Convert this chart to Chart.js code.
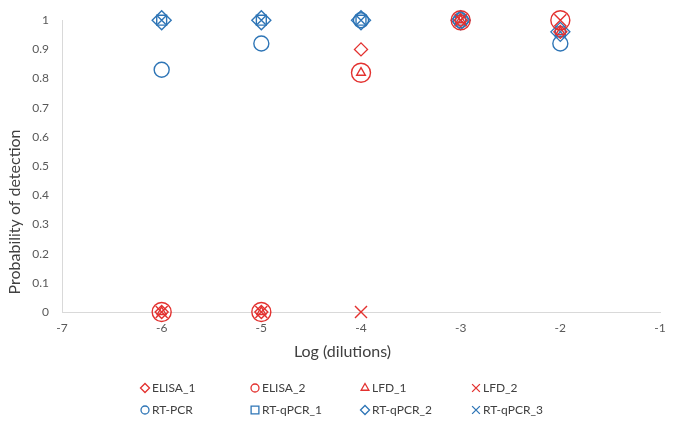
<!DOCTYPE html>
<html>
<head>
<meta charset="utf-8">
<script src="https://cdn.jsdelivr.net/npm/chart.js@4/dist/chart.umd.min.js"></script>
<style>
  html, body { margin: 0; padding: 0; background: #fff; }
  #wrap { width: 685px; height: 424px; }
</style>
</head>
<body>
<div id="wrap"><canvas id="chart" width="685" height="424"></canvas></div>
<script>
// log dilution on the x axis
var dilutions = [-6, -5, -4, -3, -2];

// probability of detection per assay
var elisa1  = [0, 0, 0.9, 1, 0.96];
var elisa2  = [0, 0, 0.82, 1, 1];
var lfd1    = [0, 0, 0.82, 1, 0.96];
var lfd2    = [0, 0, 0, 1, 1];
var rtPcr   = [0.83, 0.92, 1, 1, 0.92];
var rtqPcr1 = [1, 1, 1, 1, 0.96];
var rtqPcr2 = [1, 1, 1, 1, 0.96];
var rtqPcr3 = [1, 1, 1, 1, 0.96];

var xTicks = [-7, -6, -5, -4, -3, -2, -1];
var yTicks = [0, 0.1, 0.2, 0.3, 0.4, 0.5, 0.6, 0.7, 0.8, 0.9, 1];

var RED = '#E3312F';
var BLUE = '#2E75B6';
var FONT = 'Lato, "Open Sans", sans-serif';

function pts(vals) {
  return vals.map(function(v, i) { return {x: dilutions[i], y: v}; });
}

function series(label, vals, color, style, radius, legendRadius) {
  return {
    label: label,
    data: pts(vals),
    pointStyle: style,
    pointRadius: radius,
    pointHoverRadius: radius,
    borderColor: color,
    backgroundColor: 'rgba(0,0,0,0)',
    pointBorderWidth: 1.4,
    showLine: false,
    clip: false,
    legendRadius: legendRadius
  };
}

var datasets = [
  series('ELISA_1', elisa1, RED, 'rectRot', 6.5, 4.5),
  series('ELISA_2', elisa2, RED, 'circle', 9.5, 4),
  series('LFD_1', lfd1, RED, 'triangle', 5, 4.5),
  series('LFD_2', lfd2, RED, 'crossRot', 8.5, 5.5),
  series('RT-PCR', rtPcr, BLUE, 'circle', 7.5, 4),
  series('RT-qPCR_1', rtqPcr1, BLUE, 'rect', 7, 5.5),
  series('RT-qPCR_2', rtqPcr2, BLUE, 'rectRot', 9.5, 4.5),
  series('RT-qPCR_3', rtqPcr3, BLUE, 'crossRot', 6, 5.5)
];

// Excel centres axis titles on the whole chart, and lays the legend out as a 4x2 grid
var excelFrame = {
  id: 'excelFrame',
  afterDraw: function(chart) {
    var ctx = chart.ctx;
    var colX = [145, 255, 365, 476];
    var rowY = [388, 410];
    ctx.save();

    ctx.fillStyle = '#404040';
    ctx.font = '16px ' + FONT;
    ctx.textAlign = 'center';
    ctx.textBaseline = 'middle';
    ctx.fillText('Log (dilutions)', chart.width / 2, 352);
    ctx.save();
    ctx.translate(15, chart.height / 2);
    ctx.rotate(-Math.PI / 2);
    ctx.fillText('Probability of detection', 0, 0);
    ctx.restore();

    ctx.font = '12px ' + FONT;
    ctx.textAlign = 'left';
    chart.data.datasets.forEach(function(ds, i) {
      var x = colX[i % 4], y = rowY[Math.floor(i / 4)];
      ctx.strokeStyle = ds.borderColor;
      ctx.fillStyle = 'rgba(0,0,0,0)';
      ctx.lineWidth = 1.3;
      Chart.helpers.drawPoint(ctx, {pointStyle: ds.pointStyle, rotation: 0, borderWidth: 1.3, radius: ds.legendRadius}, x, y);
      ctx.fillStyle = '#404040';
      ctx.fillText(ds.label, x + 7, y);
    });
    ctx.restore();
  }
};

new Chart(document.getElementById('chart'), {
  type: 'scatter',
  data: { datasets: datasets },
  plugins: [excelFrame],
  options: {
    responsive: false,
    animation: false,
    layout: { padding: { top: 20, right: 25, bottom: 82, left: 6 } },
    plugins: {
      legend: { display: false },
      tooltip: { enabled: false }
    },
    scales: {
      x: {
        type: 'linear',
        min: -7,
        max: -1,
        afterBuildTicks: function(scale) {
          scale.ticks = xTicks.map(function(v) { return {value: v}; });
        },
        afterFit: function(scale) { scale.height = 30; },
        grid: { display: false, drawTicks: false },
        border: { display: true, color: '#D9D9D9', width: 1 },
        ticks: { color: '#595959', font: { family: FONT, size: 12 }, padding: 9 }
      },
      y: {
        min: 0,
        max: 1,
        afterBuildTicks: function(scale) {
          scale.ticks = yTicks.map(function(v) { return {value: v}; });
        },
        afterFit: function(scale) { scale.width = 56; },
        grid: { display: false, drawTicks: false },
        border: { display: true, color: '#D9D9D9', width: 1 },
        ticks: {
          color: '#595959',
          font: { family: FONT, size: 12 },
          padding: 13,
          callback: function(v) { return String(v); }
        }
      }
    }
  }
});
</script>
</body>
</html>
